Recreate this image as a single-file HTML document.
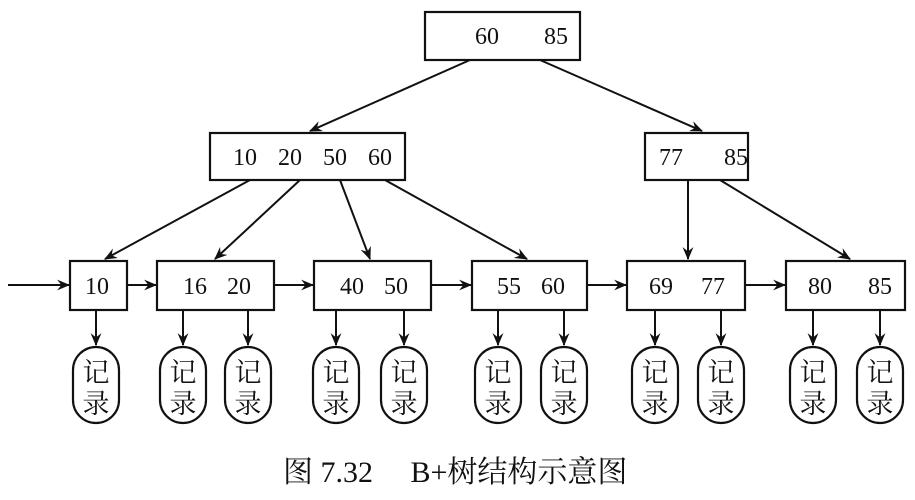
<!DOCTYPE html>
<html><head><meta charset="utf-8"><style>
html,body{margin:0;padding:0;background:#fff;}
svg{display:block}
text{font-family:"Liberation Serif","Noto Serif CJK SC",serif;fill:#111}
.n{font-size:24px}
.c{font-family:"Liberation Sans","Noto Sans CJK SC",sans-serif;font-size:27px}
</style></head><body>
<svg width="915" height="500" viewBox="0 0 915 500" xmlns="http://www.w3.org/2000/svg">
<defs><marker id="a" viewBox="0 0 12 10" refX="11" refY="5" markerWidth="13" markerHeight="11" markerUnits="userSpaceOnUse" orient="auto"><path d="M0,0 L12,5 L0,10 L4,5 z" fill="#111"/></marker></defs>
<g fill="none" stroke="#111" stroke-width="2.2">
<rect x="425" y="12" width="155" height="48"/>
<rect x="210" y="133" width="195" height="47"/>
<rect x="645" y="133" width="103" height="47"/>
<rect x="70" y="261" width="57" height="49"/>
<rect x="157" y="261" width="117" height="49"/>
<rect x="314" y="261" width="117" height="49"/>
<rect x="472" y="261" width="115" height="49"/>
<rect x="627" y="261" width="118" height="49"/>
<rect x="786" y="261" width="119" height="49"/>
</g>
<g stroke="#111" stroke-width="2" marker-end="url(#a)">
<line x1="470" y1="60" x2="310" y2="131"/>
<line x1="540" y1="60" x2="702" y2="131"/>
<line x1="250" y1="180" x2="105" y2="259"/>
<line x1="300" y1="180" x2="215" y2="259"/>
<line x1="340" y1="180" x2="370" y2="259"/>
<line x1="385" y1="180" x2="527" y2="259"/>
<line x1="688" y1="180" x2="688" y2="259"/>
<line x1="720" y1="180" x2="850" y2="259"/>
<line x1="8" y1="285" x2="69" y2="285"/>
<line x1="127" y1="285" x2="156" y2="285"/>
<line x1="274" y1="285" x2="313" y2="285"/>
<line x1="431" y1="285" x2="471" y2="285"/>
<line x1="587" y1="285" x2="626" y2="285"/>
<line x1="745" y1="285" x2="785" y2="285"/>
<line x1="96" y1="310" x2="96" y2="345"/>
<line x1="183" y1="310" x2="183" y2="345"/>
<line x1="248" y1="310" x2="248" y2="345"/>
<line x1="336" y1="310" x2="336" y2="345"/>
<line x1="404" y1="310" x2="404" y2="345"/>
<line x1="498" y1="310" x2="498" y2="345"/>
<line x1="564" y1="310" x2="564" y2="345"/>
<line x1="655" y1="310" x2="655" y2="345"/>
<line x1="721" y1="310" x2="721" y2="345"/>
<line x1="813" y1="310" x2="813" y2="345"/>
<line x1="880" y1="310" x2="880" y2="345"/>
</g>
<g fill="none" stroke="#111" stroke-width="2.2">
<rect x="73" y="347" width="46" height="76" rx="23"/>
<rect x="160" y="347" width="46" height="76" rx="23"/>
<rect x="225" y="347" width="46" height="76" rx="23"/>
<rect x="313" y="347" width="46" height="76" rx="23"/>
<rect x="381" y="347" width="46" height="76" rx="23"/>
<rect x="475" y="347" width="46" height="76" rx="23"/>
<rect x="541" y="347" width="46" height="76" rx="23"/>
<rect x="632" y="347" width="46" height="76" rx="23"/>
<rect x="698" y="347" width="46" height="76" rx="23"/>
<rect x="790" y="347" width="46" height="76" rx="23"/>
<rect x="857" y="347" width="46" height="76" rx="23"/>
</g>
<g class="c" text-anchor="middle">
<text x="96" y="382">记</text><text x="96" y="413">录</text>
<text x="183" y="382">记</text><text x="183" y="413">录</text>
<text x="248" y="382">记</text><text x="248" y="413">录</text>
<text x="336" y="382">记</text><text x="336" y="413">录</text>
<text x="404" y="382">记</text><text x="404" y="413">录</text>
<text x="498" y="382">记</text><text x="498" y="413">录</text>
<text x="564" y="382">记</text><text x="564" y="413">录</text>
<text x="655" y="382">记</text><text x="655" y="413">录</text>
<text x="721" y="382">记</text><text x="721" y="413">录</text>
<text x="813" y="382">记</text><text x="813" y="413">录</text>
<text x="880" y="382">记</text><text x="880" y="413">录</text>
</g>
<g class="n" text-anchor="middle">
<text x="487" y="44">60</text><text x="556" y="44">85</text>
<text x="245" y="165">10</text><text x="290" y="165">20</text><text x="335" y="165">50</text><text x="380" y="165">60</text>
<text x="671" y="165">77</text><text x="736" y="165">85</text>
<text x="97" y="294">10</text>
<text x="195" y="294">16</text><text x="239" y="294">20</text>
<text x="352" y="294">40</text><text x="396" y="294">50</text>
<text x="509" y="294">55</text><text x="553" y="294">60</text>
<text x="661" y="294">69</text><text x="713" y="294">77</text>
<text x="820" y="294">80</text><text x="880" y="294">85</text>
</g>
<text x="283" y="482" style="font-size:30px">图 7.32　 B+树结构示意图</text>
</svg>
</body></html>
